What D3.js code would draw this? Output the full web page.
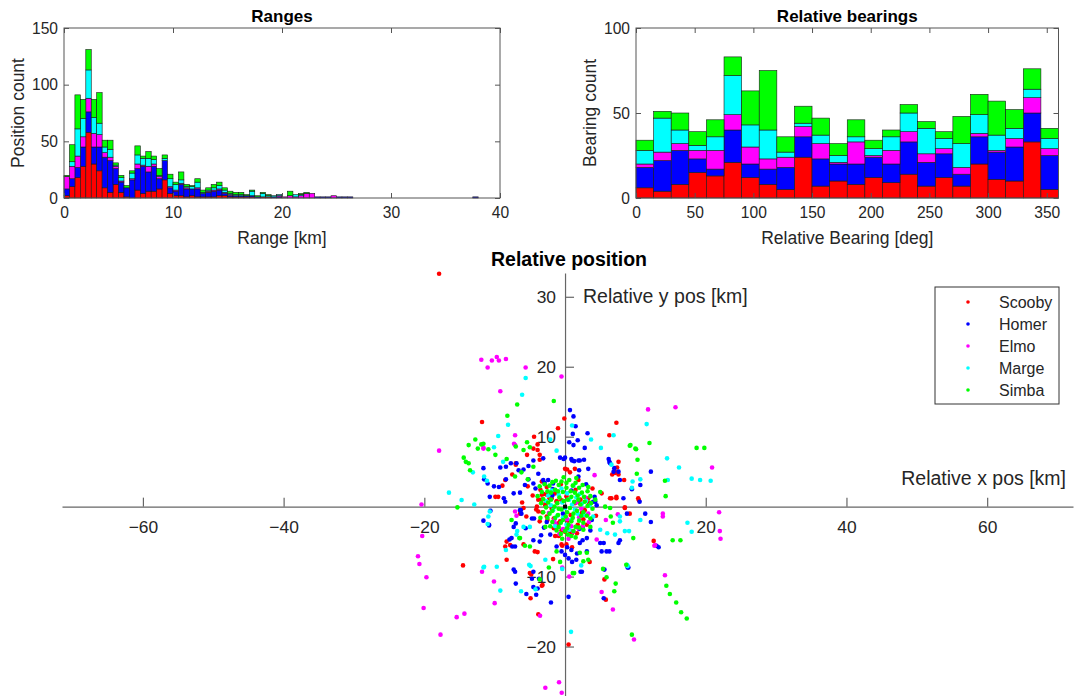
<!DOCTYPE html>
<html>
<head>
<meta charset="utf-8">
<script src="https://cdn.jsdelivr.net/npm/d3@7"></script>
<style>
body { margin: 0; background: #fff; }
svg { display: block; font-family: "Liberation Sans", Arial, Helvetica, sans-serif; }
</style>
</head>
<body>
<svg id="fig" width="1081" height="696"></svg>
<script>
// observers and their colours (stack order, bottom first)
var names = ["Scooby", "Homer", "Elmo", "Marge", "Simba"];
var colors = ["#ff0000", "#0000ff", "#ff00ff", "#00ffff", "#00ff00"];

// ranges histogram, 0.5 km bins starting at 0
var rangeBinWidth = 0.5;
var rangeScooby = [2,10,18,28,58,30,24,9,5,12,5,1,0,7,4,6,6,8,16,4,2,2,1,2,1,1,1,1,2,2,1,1,1,1,1,0,1,1,0,0,0,0,0,0,0,0,0,0,0,0,0,0,0,0,0,0,0,0,0,0,0,0,0,0,0,0,0,0,0,0,0,0,0,0,0,0];
var rangeHomer  = [6,7,9,17,18,15,21,27,28,14,9,8,16,19,24,17,22,9,17,5,4,10,7,6,7,3,4,5,5,2,1,1,1,1,1,1,0,0,1,1,0,0,0,0,0,0,1,1,1,0,1,1,1,0,0,0,0,0,0,0,0,0,0,0,0,0,0,0,0,0,0,0,0,0,0,1];
var rangeElmo   = [11,11,10,9,12,12,11,4,3,2,1,0,1,4,1,5,2,2,0,1,1,1,1,0,1,0,1,1,1,1,1,0,0,0,0,0,0,0,0,1,1,2,1,2,4,4,0,0,0,2,0,0,0,0,0,0,0,0,0,0,0,0,0,0,0,0,0,0,0,0,0,0,0,0,0,0];
var rangeMarge  = [0,4,24,16,25,14,10,5,7,1,3,0,5,8,6,7,4,1,2,7,5,3,1,2,5,1,1,2,3,2,1,1,1,0,4,0,3,1,1,1,0,0,2,1,0,0,0,0,0,0,0,0,0,0,0,0,0,0,0,0,0,0,0,0,0,0,0,0,0,0,0,0,0,0,0,0];
var rangeSimba  = [1,15,30,17,18,16,27,6,8,2,2,2,2,8,2,6,3,6,3,4,2,7,2,1,3,2,2,3,3,2,2,2,2,1,1,1,1,1,0,0,0,4,0,1,1,0,0,0,0,0,0,0,0,0,0,0,0,0,0,0,0,0,0,0,0,0,0,0,0,0,0,0,0,0,0,0];

// bearings histogram, 15 deg bins from 0 to 360
var bearingBinWidth = 15;
var bearingScooby = [6,4,8,15,13,21,12,8,5,24,7,10,8,12,9,14,7,12,7,20,11,10,33,5];
var bearingHomer  = [12,18,20,8,4,19,8,9,13,12,16,10,12,12,11,19,14,14,7,16,16,20,17,20];
var bearingElmo   = [2,5,4,5,11,9,10,6,6,6,9,1,13,1,8,6,5,3,4,2,1,5,9,4];
var bearingMarge  = [8,20,8,3,8,23,13,17,3,2,5,4,3,4,8,11,15,6,14,11,9,6,5,6];
var bearingSimba  = [6,4,10,8,10,11,20,35,9,10,10,7,10,5,4,5,4,4,16,12,20,11,12,6];

// relative positions [x, y] in km
var posScooby = [[-17.9,33.3],[-11.8,12.1],[-0.1,12.6],[-1.0,11.2],[-4.4,10.0],[-3.9,8.9],[-4.5,8.3],[-3.9,8.1],[-3.6,6.7],[6.3,10.2],[7.3,12.0],[7.6,6.4],[7.1,5.0],[7.6,4.6],[8.4,3.8],[9.5,2.6],[10.4,1.2],[10.5,0.9],[8.5,-0.2],[7.3,1.2],[6.4,1.2],[9.2,-1.0],[12.6,-4.9],[-7.0,6.0],[-7.5,4.6],[-8.9,3.0],[-9.5,1.4],[0.0,5.4],[1.4,5.4],[1.9,3.8],[-3.3,1.7],[-4.0,0.0],[-5.9,-0.2],[-2.6,-1.4],[-3.6,-2.1],[0.0,-3.6],[0.7,-3.5],[-0.5,-3.4],[1.7,-3.8],[-8.5,-5.7],[-5.9,-5.4],[-3.9,-6.5],[-4.3,-6.4],[-14.5,-8.4],[-8.3,-7.6],[-5.0,-9.5],[-4.8,-9.7],[-3.2,-11.2],[-3.3,-11.3],[-4.9,-13.1],[-3.8,-15.4],[-1.7,-7.5],[0.5,-19.7],[3.5,-7.9],[5.6,-10.4],[5.8,-13.3],[-6.4,-1.0],[-5.5,-1.4],
  [-3.5,2.4],[-3.0,1.8],[-2.6,2.8],[-2.2,1.2],[-3.8,1.0],[-4.6,1.6],[-2.8,0.4],[-1.9,-0.3],[-3.2,-0.8],[-2.5,-1.9],[-4.1,-0.4],[-1.4,2.0],[-0.6,3.2],[0.2,1.5],[1.5,2.4],[2.2,1.0],[2.8,-0.5],[3.4,0.6],[2.6,-1.8],[1.8,-2.6],[0.8,-1.2],[-0.9,-2.4],[-1.6,-3.1],[3.9,2.6],[4.4,-1.3],[-5.3,2.9],[-6.1,0.6],[5.2,1.9],[-0.4,-5.6],[1.0,-5.8],[2.4,-0.9],[3.1,-2.6],[-1.2,0.8],[0.4,-2.0],
  [-3.6,7.4],[-5.4,7.4],[-7.0,6.2],[0.3,5.3],[0.7,4.9],[7.1,4.8],[6.7,4.6],[7.4,5.6],[-9.9,1.4],[-8.5,3.8],[-3.3,3.6],[-2.6,1.7],[-1.9,1.2],[-3.3,1.0],[-2.8,0.2],[-1.4,1.9],[-1.2,0.7],[-0.5,0.9],[-3.8,-0.7],[-1.6,-1.7],[-0.7,-2.1],[-0.2,-3.3],[0.5,-3.3],[1.0,-3.8],[3.3,1.2],[7.3,1.4],[6.6,1.2],[8.5,-0.1],[2.1,0.5],[1.4,0.5],[-8.3,-5.0],[-7.8,-5.5],[-1.4,-4.2],[-0.9,-4.2],[-0.5,-5.4],[0.2,-5.4]];
var posHomer = [[0.7,13.8],[1.2,12.9],[1.5,11.5],[1.1,10.4],[3.2,10.5],[0.6,9.2],[1.8,9.5],[2.8,8.4],[1.2,8.8],[-0.7,7.0],[-0.2,6.8],[1.0,6.6],[1.3,6.5],[2.1,6.6],[2.7,6.7],[6.2,6.8],[6.3,6.4],[7.0,5.5],[7.6,5.0],[7.8,3.8],[12.2,5.0],[-3.1,6.9],[-4.5,6.6],[-5.2,5.8],[-6.6,5.2],[-7.7,6.2],[-8.4,5.7],[-11.6,5.5],[-11.5,3.9],[-9.4,2.8],[-8.4,3.9],[-5.7,3.1],[-4.5,3.3],[-2.4,3.8],[-1.7,3.3],[-10.7,1.4],[-8.7,1.2],[-6.4,2.0],
  [-11.6,-2.0],[-10.8,-2.7],[-7.0,-2.4],[-5.6,-3.1],[-7.6,-4.5],[-7.1,-5.7],[-4.5,-4.8],[-3.6,-5.0],[-1.2,-5.7],[-0.5,-6.4],[0.0,-6.9],[0.5,-7.4],[1.0,-7.9],[2.1,-5.2],[2.5,-4.8],[3.1,-6.4],[1.6,-7.6],[2.4,-9.3],[5.0,-5.2],[5.9,-6.4],[6.3,-6.4],[5.2,-6.4],[7.6,-5.2],[8.9,-8.7],[11.4,-1.0],[12.2,-2.2],[13.3,-5.8],[13.0,-5.6],[8.3,1.2],[4.0,0.7],[4.5,0.2],
  [-7.1,-9.3],[-7.0,-11.0],[-4.7,-10.3],[-3.7,-10.3],[-4.5,-11.5],[-3.9,-11.7],[-5.5,-12.5],[-4.1,-12.6],[-2.0,-13.7],[0.5,-12.9],[2.2,-9.3],[5.5,-13.1],[9.0,-8.7],[-6.4,-0.5],[-6.2,-1.0],[-4.4,-1.7],
  [-1.8,1.6],[-2.9,3.4],[3.0,3.2],[3.6,-3.4],[-0.3,-1.0],[0.9,2.3],[-2.1,-4.0],[4.2,1.4],[2.0,-3.2],[-3.0,-3.0],[1.9,4.3],
  [0.0,7.0],[0.9,6.8],[1.9,6.6],[3.3,5.4],[2.0,5.2],[6.4,6.2],[6.9,5.0],[10.7,3.1],[9.5,2.5],[10.6,0.7],[-6.9,6.2],[-9.2,5.6],[-5.9,5.3],[-5.2,3.9],[-3.8,4.7],[-3.1,3.8],[-1.75,2.5],[-11.0,3.3],[-10.1,2.9],[-8.5,0.7],[-7.3,1.9],[-4.2,2.6],[-10.6,-0.6],[-10.8,-2.6],[-6.3,-0.5],[-4.7,-1.7],[-7.3,-2.9],[-7.9,-4.7],[-7.5,-5.7],[0.3,-5.8],[0.9,-6.2],[1.7,-6.7],[4.3,0.7],[3.8,-1.9],[5.5,-5.2],[7.8,-4.8],[8.8,-1.0],[5.6,-9.0],[-7.3,-9.0],[-4.5,-9.3],[-2.6,-2.2],[-3.4,-4.1],[3.1,-4.5],[2.5,-3.0]];
var posElmo = [[-11.9,21.0],[-11.0,19.9],[-10.4,20.9],[-9.7,21.4],[-9.4,20.9],[-8.4,21.1],[-5.6,19.9],[-0.5,18.6],[-9.2,16.5],[-7.1,10.2],[-7.25,9.0],[-17.9,8.0],[-11.6,8.4],[11.8,13.9],[15.7,14.2],[20.9,5.6],[-20.4,0.3],[-20.3,-4.2],[21.9,-0.8],[22.0,-3.5],[22.1,-4.6],[13.9,-1.0],[13.9,-1.4],[12.7,-5.6],[-20.9,-7.1],[-20.7,-8.2],[-19.7,-10.1],[-11.8,-9.3],[-10.1,-10.7],[-10.0,-13.8],[-20.1,-14.5],[-15.4,-15.8],[-14.3,-15.3],[-17.7,-18.3],[-3.55,-15.6],[-0.4,-8.7],[0.6,-10.0],[5.2,-12.2],[6.8,-14.7],[9.8,-19.0],[14.2,-9.8],[-2.8,-25.9],[-0.85,-25.1],[-0.47,-26.6],[-6.9,-1.3],[-7.1,-0.7],[4.5,-4.7],[7.5,-1.1],[4.2,4.5],
  [2.0,-1.5],[2.5,-2.8],[1.2,-3.6],[-0.8,-3.9],[3.3,-1.0],[1.6,0.6],[-1.5,-1.8],[2.9,1.3],[0.5,-4.6],
  [-11.6,8.3],[-7.1,8.8],[12.8,-5.5],[5.8,-1.9],[-1.4,-2.4],[-1.0,-2.9],[0.3,-1.8],[1.9,-3.1],[3.4,-2.2],[2.3,-0.3],[-0.3,-3.2],[0.9,-2.8],[-2.3,-0.9]];
var posMarge = [[-5.6,18.4],[-6.1,16.0],[-8.1,11.7],[-9.5,10.1],[-10.1,8.5],[-2.1,9.6],[1.0,11.6],[3.7,9.6],[5.1,8.4],[6.9,10.2],[11.6,11.8],[14.5,6.9],[16.2,5.6],[14.6,3.8],[18.0,4.0],[19.2,3.8],[20.7,3.7],[10.7,3.9],[9.5,2.7],[-13.1,4.9],[-11.5,4.3],[-11.1,3.7],[-16.5,2.0],[-14.7,0.95],[-12.9,0.3],[-10.7,-0.7],[-11.0,-2.5],[-6.8,-3.5],[-6.9,-4.0],[-8.4,-6.2],[-11.6,-8.7],[-9.7,-8.6],[-9.2,-12.0],[-6.25,-12.1],[-4.9,-8.5],[-4.2,-11.8],[-2.8,-7.6],[-0.4,-8.9],[2.3,-8.4],[8.9,-8.5],[5.0,-3.3],[6.0,-3.8],[7.1,-4.0],[7.8,-2.1],[8.5,-3.5],[9.1,-3.5],[17.4,-2.3],[18.0,-3.6],[8.8,-8.3],[0.85,-17.9],[4.0,-1.4],[3.5,0.2],
  [-0.5,2.6],[0.6,1.0],[1.4,-0.4],[-1.1,-1.3],[0.2,-2.6],[2.1,1.8],[-2.0,0.2],[1.2,3.0],[-0.4,0.6],[2.7,-1.2],[-1.4,-2.8],[0.9,-1.9],[-2.4,1.6],[3.0,0.8],
  [-8.8,6.4],[-1.2,8.0],[6.6,6.0],[9.6,3.6],[7.8,-1.4],[10.7,-1.9],[-10.9,-1.4],[-5.9,-2.9],[-5.0,-2.9],[-5.1,-8.3],[-11.5,-8.6],[-0.9,1.7],[0.3,1.9],[0.0,-0.2],[1.0,0.3],[-1.7,-0.5],[1.8,-1.0],[-0.3,-1.6],[-1.9,2.3],[2.4,0.4],[0.6,-3.3],[-2.7,0.8],[1.6,1.3]];
var posSimba = [[-1.6,15.1],[-6.8,14.6],[-8.2,13.0],[-12.75,9.6],[-11.9,8.9],[-13.7,8.8],[-12.4,8.3],[-10.9,8.2],[-7.0,8.6],[-5.4,9.2],[-5.0,8.5],[-14.4,7.0],[-14.1,6.4],[-13.7,6.2],[-13.5,5.2],[-8.3,6.8],[-7.1,4.3],[-6.2,4.9],[-5.3,3.9],[9.3,8.8],[10.0,8.3],[12.0,9.1],[18.7,8.4],[19.8,8.4],[10.3,6.7],[14.2,3.7],[14.3,1.5],[-15.3,-0.1],[5.7,0.0],[6.4,-0.2],[6.5,-1.4],[6.8,-2.3],[9.7,-4.5],[15.3,-4.8],[16.4,-4.8],[-6.5,-4.5],[-5.7,-5.6],[-5.0,-5.7],[-1.2,-6.4],[2.1,-6.6],[3.1,-6.6],[3.3,-7.6],[1.1,-9.5],[1.3,-9.5],[5.4,-8.9],[5.9,-10.1],[7.2,-11.0],[7.0,-12.1],[14.4,-11.3],[14.9,-12.5],[15.8,-13.7],[16.5,-15.1],[17.3,-16.0],[9.5,-18.3],[-3.6,-10.4],[-2.3,-8.7],
  [-1.8,3.5],[-0.9,3.1],[0.2,3.4],[1.1,3.0],[2.0,2.7],[-2.5,2.2],[-1.4,2.4],[-0.3,2.1],[0.8,2.2],[1.8,1.6],[2.7,1.4],[-3.1,1.1],[-2.0,1.0],[-0.8,1.3],[0.4,1.0],[1.3,0.7],[2.2,0.3],[3.2,0.1],[-2.7,-0.1],[-1.5,0.0],[-0.5,-0.4],[0.7,-0.2],[1.7,-0.6],[2.6,-0.8],[-2.2,-1.0],[-1.0,-1.2],[0.1,-1.4],[1.1,-1.6],[2.0,-2.0],[-1.8,-2.2],[-0.6,-2.3],[0.5,-2.6],[1.5,-2.9],[-1.2,-3.4],[0.0,-3.5],[0.9,-4.2],[-0.4,-4.6],[3.6,-1.7],[-3.5,-1.6],[3.2,2.2],[-3.6,2.9],[-0.2,4.2],[1.6,4.1],[-2.8,-2.9],[2.6,-3.3],
  [-11.6,9.0],[-9.9,7.4],[-5.9,8.1],[-4.5,5.7],[9.2,8.7],[10.1,8.2],[10.2,4.7],[5.0,2.1],[3.6,-2.9],[-7.6,-1.9],[-6.4,-4.5],[-0.7,-7.9],[2.6,-7.8],[8.7,-8.3],
  [-2.9,3.2],[-2.2,3.0],[-1.3,3.7],[-0.5,3.6],[0.6,3.8],[1.5,3.4],[2.5,3.1],[3.3,2.8],[-3.3,2.1],[-2.0,2.0],[-1.0,2.2],[0.2,2.7],[1.4,2.0],[2.4,2.0],[3.6,1.5],[-3.4,0.5],[-2.4,0.6],[-1.1,0.5],[-0.2,0.8],[0.9,1.4],[1.9,1.0],[2.8,0.7],[3.7,0.5],[-3.1,-0.8],[-1.8,-0.6],[-0.9,-0.3],[0.3,-0.8],[1.2,-1.0],[2.3,-1.3],[3.1,-1.3],[-2.5,-1.6],[-1.4,-1.6],[-0.3,-1.9],[0.9,-2.1],[2.6,-2.3],[-2.1,-2.8],[-0.9,-2.9],[0.3,-3.1],[1.2,-3.5],[2.0,-3.0],[-0.6,-3.9],[0.4,-4.0],[1.5,-4.4],[3.9,-0.3],[4.3,1.0],[-3.9,1.5]];

// own position
var ownPos = [[0, 0]];

var rangeCounts = [rangeScooby, rangeHomer, rangeElmo, rangeMarge, rangeSimba];
var bearingCounts = [bearingScooby, bearingHomer, bearingElmo, bearingMarge, bearingSimba];
var positions = [posScooby, posHomer, posElmo, posMarge, posSimba];

var svg = d3.select("#fig");
var axisColor = "#555";
var textColor = "#262626";

// stacked histogram panel
var drawHist = function(opt) {
  var x = d3.scaleLinear().domain(opt.xDomain).range([opt.left, opt.right]);
  var y = d3.scaleLinear().domain(opt.yDomain).range([opt.bottom, opt.top]);
  var g = svg.append("g");

  // build stacked rows, one per bin
  var rows = opt.counts[0].map(function(v, i) {
    var row = { bin: i };
    names.forEach(function(n, k) { row[n] = opt.counts[k][i]; });
    return row;
  });
  var stack = d3.stack().keys(names)(rows);

  g.selectAll(".layer")
    .data(stack)
    .enter()
    .append("g")
    .attr("fill", function(d, k) { return colors[k]; })
    .selectAll("rect")
    .data(function(d) { return d.filter(function(s) { return s[1] > s[0]; }); })
    .enter()
    .append("rect")
    .attr("x", function(d) { return x(d.data.bin * opt.binWidth); })
    .attr("width", function(d) { return x((d.data.bin + 1) * opt.binWidth) - x(d.data.bin * opt.binWidth); })
    .attr("y", function(d) { return y(d[1]); })
    .attr("height", function(d) { return y(d[0]) - y(d[1]); })
    .attr("stroke", "#1a1a1a")
    .attr("stroke-width", 0.6);

  // axes, ticks pointing inward
  var xb = g.append("g").attr("transform", "translate(0," + opt.bottom + ")")
    .call(d3.axisBottom(x).tickValues(opt.xTicks).tickSize(-5).tickPadding(9));
  var yl = g.append("g").attr("transform", "translate(" + opt.left + ",0)")
    .call(d3.axisLeft(y).tickValues(opt.yTicks).tickSize(-5).tickPadding(6));
  var xt = g.append("g").attr("transform", "translate(0," + opt.top + ")")
    .call(d3.axisTop(x).tickValues(opt.xTicks).tickSize(-5).tickFormat(""));
  var yr = g.append("g").attr("transform", "translate(" + opt.right + ",0)")
    .call(d3.axisRight(y).tickValues(opt.yTicks).tickSize(-5).tickFormat(""));

  [xb, yl, xt, yr].forEach(function(a) {
    a.select(".domain").remove();
    a.selectAll("line").attr("stroke", axisColor);
    a.selectAll("text").attr("fill", textColor).style("font-size", "15.6px");
  });

  g.append("rect")
    .attr("x", opt.left).attr("y", opt.top)
    .attr("width", opt.right - opt.left).attr("height", opt.bottom - opt.top)
    .attr("fill", "none").attr("stroke", axisColor).attr("stroke-width", 1);

  g.append("text")
    .attr("x", (opt.left + opt.right) / 2).attr("y", opt.top - 12)
    .attr("dy", "0.35em").attr("text-anchor", "middle")
    .style("font-size", "17px").style("font-weight", "bold")
    .text(opt.title);

  g.append("text")
    .attr("x", (opt.left + opt.right) / 2).attr("y", opt.bottom + 40)
    .attr("dy", "0.35em").attr("text-anchor", "middle")
    .attr("fill", textColor).style("font-size", "17.5px")
    .text(opt.xLabel);

  g.append("text")
    .attr("transform", "translate(" + opt.yLabelX + "," + (opt.top + opt.bottom) / 2 + ") rotate(-90)")
    .attr("dy", "0.35em").attr("text-anchor", "middle")
    .attr("fill", textColor).style("font-size", "17.5px")
    .text(opt.yLabel);
};

drawHist({
  counts: rangeCounts, binWidth: rangeBinWidth,
  xDomain: [0, 40], yDomain: [0, 150],
  left: 64, right: 500, top: 28, bottom: 198,
  xTicks: [0, 10, 20, 30, 40], yTicks: [0, 50, 100, 150],
  title: "Ranges", xLabel: "Range [km]", yLabel: "Position count", yLabelX: 18
});

drawHist({
  counts: bearingCounts, binWidth: bearingBinWidth,
  xDomain: [0, 360], yDomain: [0, 100],
  left: 636, right: 1058.5, top: 28, bottom: 198,
  xTicks: [0, 50, 100, 150, 200, 250, 300, 350], yTicks: [0, 50, 100],
  title: "Relative bearings", xLabel: "Relative Bearing [deg]", yLabel: "Bearing count", yLabelX: 590
});

// relative position scatter, axes through the origin
var sx = d3.scaleLinear().domain([-71.5, 72.2]).range([62, 1073]);
var sy = d3.scaleLinear().domain([-27.5, 33.4]).range([699, 273]);
var sg = svg.append("g");

var xAxis = sg.append("g").attr("transform", "translate(0," + sy(0) + ")")
  .call(d3.axisBottom(sx).tickValues([-60, -40, -20, 20, 40, 60]).tickSizeInner(-9).tickSizeOuter(0).tickPadding(14));
var yAxis = sg.append("g").attr("transform", "translate(" + sx(0) + ",0)")
  .call(d3.axisLeft(sy).tickValues([-20, -10, 10, 20, 30]).tickSizeInner(-9).tickSizeOuter(0).tickPadding(9));

[xAxis, yAxis].forEach(function(a) {
  a.select(".domain").attr("stroke", "#666").attr("stroke-width", 1.2);
  a.selectAll("line").attr("stroke", "#666").attr("stroke-width", 1.2);
  a.selectAll("text").attr("fill", textColor).style("font-size", "17.4px");
});

sg.append("text")
  .attr("x", 583).attr("y", sy(30) - 1)
  .attr("dy", "0.35em").attr("fill", textColor)
  .style("font-size", "19.5px")
  .text("Relative y pos [km]");

sg.append("text")
  .attr("x", 1066).attr("y", 478)
  .attr("dy", "0.35em").attr("text-anchor", "end").attr("fill", textColor)
  .style("font-size", "19.5px")
  .text("Relative x pos [km]");

sg.append("text")
  .attr("x", 569).attr("y", 259)
  .attr("dy", "0.35em").attr("text-anchor", "middle")
  .style("font-size", "19.5px").style("font-weight", "bold")
  .text("Relative position");

positions.forEach(function(pts, k) {
  sg.append("g")
    .attr("fill", colors[k])
    .selectAll("circle")
    .data(pts)
    .enter()
    .append("circle")
    .attr("cx", function(d) { return sx(d[0]); })
    .attr("cy", function(d) { return sy(d[1]); })
    .attr("r", 2.3);
});

sg.selectAll(".own")
  .data(ownPos)
  .enter()
  .append("rect")
  .attr("x", function(d) { return sx(d[0]) - 2; })
  .attr("y", function(d) { return sy(d[1]) - 2; })
  .attr("width", 4).attr("height", 4)
  .attr("fill", "#000");

// legend
var legend = svg.append("g").attr("transform", "translate(935,287)");
legend.append("rect")
  .attr("width", 124).attr("height", 117)
  .attr("fill", "#fff").attr("stroke", "#333").attr("stroke-width", 1);
var items = legend.selectAll(".item")
  .data(names)
  .enter()
  .append("g")
  .attr("transform", function(d, i) { return "translate(0," + (15 + i * 22) + ")"; });
items.append("circle")
  .attr("cx", 33).attr("cy", 0).attr("r", 1.8)
  .attr("fill", function(d, i) { return colors[i]; });
items.append("text")
  .attr("x", 64).attr("y", 0).attr("dy", "0.35em")
  .attr("fill", textColor).style("font-size", "16px")
  .text(function(d) { return d; });
</script>
</body>
</html>
